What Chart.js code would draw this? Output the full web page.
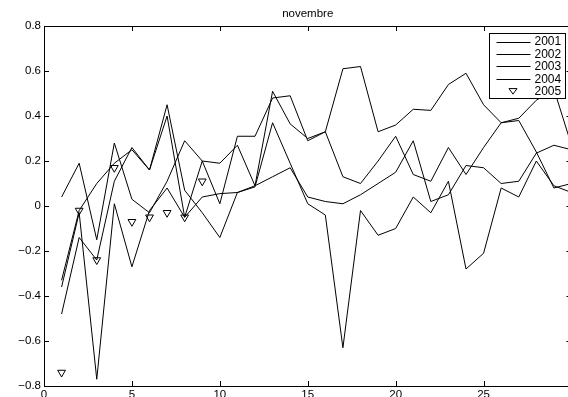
<!DOCTYPE html>
<html>
<head>
<meta charset="utf-8">
<script src="https://cdn.jsdelivr.net/npm/chart.js@4.4.0/dist/chart.umd.min.js"></script>
<style>
  html, body { margin: 0; padding: 0; background: #fff; overflow: hidden; }
  #wrap { position: relative; width: 577px; height: 397px; }
</style>
</head>
<body>
<div id="wrap"><canvas id="chart"></canvas></div>
<script>
// days of the month (x) and one series per year
const days = [1, 2, 3, 4, 5, 6, 7, 8, 9, 10, 11, 12, 13, 14, 15, 16, 17, 18, 19, 20, 21, 22, 23, 24, 25, 26, 27, 28, 29, 30];
const y2001 = [0.04, 0.19, -0.15, 0.28, 0.03, -0.03, 0.11, 0.29, 0.20, 0.19, 0.27, 0.09, 0.51, 0.365, 0.30, 0.33, 0.13, 0.10, 0.20, 0.31, 0.14, 0.11, 0.26, 0.14, 0.26, 0.37, 0.38, 0.24, 0.08, 0.10];
const y2002 = [-0.33, -0.02, 0.10, 0.19, 0.25, 0.16, 0.45, 0.07, -0.03, -0.14, 0.06, 0.085, 0.37, 0.19, 0.01, -0.04, -0.63, -0.02, -0.13, -0.10, 0.04, -0.03, 0.11, -0.28, -0.21, 0.08, 0.04, 0.20, 0.09, 0.06];
const y2003 = [-0.36, -0.03, -0.77, 0.01, -0.27, -0.02, 0.08, -0.05, 0.04, 0.055, 0.06, 0.09, 0.13, 0.17, 0.04, 0.02, 0.01, 0.05, 0.10, 0.15, 0.29, 0.02, 0.05, 0.18, 0.17, 0.10, 0.11, 0.235, 0.27, 0.25];
const y2004 = [-0.48, -0.14, -0.24, 0.11, 0.26, 0.16, 0.40, -0.05, 0.20, 0.01, 0.31, 0.31, 0.48, 0.49, 0.29, 0.33, 0.61, 0.62, 0.33, 0.36, 0.43, 0.425, 0.54, 0.59, 0.45, 0.37, 0.39, 0.47, 0.52, 0.27];
const y2005 = [-0.74, -0.02, -0.24, 0.17, -0.07, -0.05, -0.03, -0.05, 0.11];
const years = ['2001', '2002', '2003', '2004', '2005'];
const xTicks = [0, 5, 10, 15, 20, 25, 30];
const yTicks = [-0.8, -0.6, -0.4, -0.2, 0, 0.2, 0.4, 0.6, 0.8];

const FONT = '"Liberation Sans", Arial, sans-serif';

function pts(vals) {
  return vals.map((v, i) => ({ x: days[i], y: v }));
}

function lineSet(label, vals) {
  return {
    label: label,
    data: pts(vals),
    borderColor: '#000',
    borderWidth: 1,
    pointRadius: 0,
    fill: false,
    tension: 0
  };
}

// matlab-ish box: top line, inward ticks, title and a boxed legend
const decor = {
  id: 'decor',
  afterDatasetsDraw(chart) {
    const { ctx, chartArea: a, scales } = chart;
    const x = scales.x, y = scales.y;
    ctx.save();
    ctx.strokeStyle = '#000';
    ctx.lineWidth = 1;
    ctx.beginPath();
    ctx.moveTo(a.left, Math.round(a.top) + 0.5);
    ctx.lineTo(a.right, Math.round(a.top) + 0.5);
    x.ticks.forEach(t => {
      const px = Math.round(x.getPixelForValue(t.value)) + 0.5;
      ctx.moveTo(px, a.bottom); ctx.lineTo(px, a.bottom - 5);
      ctx.moveTo(px, a.top); ctx.lineTo(px, a.top + 5);
    });
    y.ticks.forEach(t => {
      const py = Math.round(y.getPixelForValue(t.value)) + 0.5;
      ctx.moveTo(a.left, py); ctx.lineTo(a.left + 5, py);
      ctx.moveTo(a.right, py); ctx.lineTo(a.right - 5, py);
    });
    ctx.stroke();

    ctx.fillStyle = '#000';
    ctx.font = '11.5px ' + FONT;
    ctx.textAlign = 'center';
    ctx.textBaseline = 'middle';
    ctx.fillText('novembre', (a.left + a.right) / 2, 14);

    // legend
    const bx = 489.5, by = 33.5, bw = 76, bh = 65;
    ctx.fillStyle = '#fff';
    ctx.fillRect(bx, by, bw, bh);
    ctx.strokeRect(bx, by, bw, bh);
    ctx.font = '12px ' + FONT;
    ctx.textAlign = 'left';
    ctx.fillStyle = '#000';
    years.forEach((yr, i) => {
      const ly = by + 8 + i * 12.4;
      if (i < 4) {
        ctx.beginPath();
        ctx.moveTo(bx + 7, Math.round(ly) + 0.5);
        ctx.lineTo(bx + 41, Math.round(ly) + 0.5);
        ctx.stroke();
      } else {
        ctx.beginPath();
        ctx.moveTo(bx + 19.5, ly - 2.5);
        ctx.lineTo(bx + 27.5, ly - 2.5);
        ctx.lineTo(bx + 23.5, ly + 3);
        ctx.closePath();
        ctx.stroke();
      }
      ctx.fillText(yr, bx + 45, ly + 0.5);
    });
    ctx.restore();
  }
};

const chart = new Chart(document.getElementById('chart'), {
  type: 'line',
  data: {
    datasets: [
      lineSet('2001', y2001),
      lineSet('2002', y2002),
      lineSet('2003', y2003),
      lineSet('2004', y2004),
      {
        label: '2005',
        data: pts(y2005),
        showLine: false,
        pointStyle: 'triangle',
        rotation: 180,
        pointRadius: 4.5,
        pointBackgroundColor: '#fff',
        pointBorderColor: '#000',
        pointBorderWidth: 1
      }
    ]
  },
  options: {
    responsive: true,
    maintainAspectRatio: false,
    animation: false,
    devicePixelRatio: 1,
    layout: { padding: { top: 26, left: 0, right: 0, bottom: 0 } },
    plugins: {
      legend: { display: false },
      title: { display: false },
      tooltip: { enabled: false }
    },
    scales: {
      x: {
        type: 'linear',
        min: 0,
        max: 30,
        afterBuildTicks: s => { s.ticks = xTicks.map(v => ({ value: v })); },
        afterFit: s => { s.height = 11; },
        grid: { display: false, drawTicks: false },
        border: { display: true, color: '#000', width: 1 },
        ticks: {
          color: '#000',
          font: { family: FONT, size: 11.5 },
          padding: 2,
          maxRotation: 0,
          callback: v => (v === 30 ? '' : String(v))
        }
      },
      y: {
        type: 'linear',
        min: -0.8,
        max: 0.8,
        afterBuildTicks: s => { s.ticks = yTicks.map(v => ({ value: v })); },
        afterFit: s => { s.width = 44; },
        grid: { display: false, drawTicks: false },
        border: { display: true, color: '#000', width: 1 },
        ticks: {
          color: '#000',
          font: { family: FONT, size: 11.5 },
          padding: 3,
          callback: v => (Math.abs(v) < 1e-9 ? '0' : v.toFixed(1).replace('-', '\u2212'))
        }
      }
    }
  },
  plugins: [decor]
});
</script>
</body>
</html>
